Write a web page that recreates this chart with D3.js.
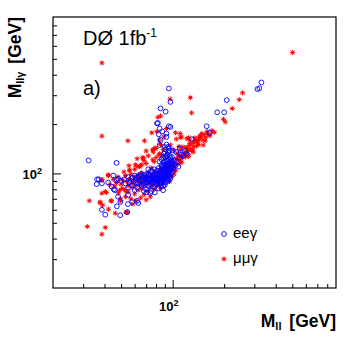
<!doctype html>
<html>
<head>
<meta charset="UTF-8">
<script src="https://cdnjs.cloudflare.com/ajax/libs/d3/7.8.5/d3.min.js"></script>
<style>
  body { margin: 0; background: #fff; }
  text { font-family: "Liberation Sans", Arial, Helvetica, sans-serif; }
</style>
</head>
<body>
<svg id="chart" width="354" height="340"></svg>
<script>
// M_ll vs M_llγ, values in GeV
var eeg = [
  [330,359],[313,327],[321,331],[207,280],[200,236],[182,236],[158,194],[164,177],
  [95,330],[97,273],[85,249],[91,238],[82,203],[87,180],[81,202],[84,188],[95,194],
  [92,167],[84,149],[97,192],[92,175],[129,162],[110,142],[85,160],[83,173],
  [32.3,120],[47,116],[38.6,60],[40.4,56],[49.4,55.6],[47.2,63],[36.2,92],[38.6,87],
  [37,92],[36,86],[46,79],[48,72],[55,74],[49.5,67],[58,67],[63,66],[54.8,65],[62,68],
  [54.3,58],[45.3,80],[47.2,91],[70.3,76.5],[78.7,76.5],
  [52,92],[55,95],[57,90],[58,94],[60,97],[61,91],[62,88],[63,95],[64,92],[65,99],
  [66,90],[67,94],[68,87],[69,96],[70,92],[71,89],[72,98],[73,93],[74,90],[75,95],
  [76,88],[77,92],[78,97],[79,91],[80,94],[80,89],[81,99],[82,92],[83,95],[84,90],
  [84,97],[85,93],[86,88],[86,100],[87,95],[88,91],[88,98],[89,94],[90,90],[90,102],
  [91,96],[92,99],[93,93],[94,97],[95,101],[96,95],[97,105],[98,100],
  [58,85],[62,82],[66,84],[70,80],[72,84],[75,78],[78,83],[80,86],[83,81],[86,84],
  [88,79],[90,85],[74,76],[68,78],[64,86],[56,88],[53,87],[50,90],[48,93],[60,79],[55,82],
  [89,105],[90,108],[91,112],[92,106],[93,115],[94,110],[92,120],[90,118],[91,125],
  [93,130],[95,122],[96,113],[94,135],[91,140],[89,132],[95,142],[97,118],[98,110],
  [99,126],[88,116],[86,122],[90,145],[92,150],[87,110],[85,104],[83,108],[100,115],
  [101,106],[102,120],[96,128],
  [104,112],[106,118],[108,110],[110,125],[112,130],[105,135],[115,128],[118,137],
  [120,132],[100,138],[45,97],[42,88],[44,83],
  [66,96],[67,91],[68,98],[69,93],[70,88],[71,95],[72,91],[73,97],[74,86],[75,92],
  [76,97],[77,89],[78,94],[79,99],[80,92],[81,87],[82,96],[83,90],[84,100],[85,96],
  [86,91],[87,102],[88,94],[89,99],[90,93],[91,104],[92,95],[93,101],[94,92],[95,98],
  [96,104],[97,96],[98,108],[99,102],[76,102],[79,85],[82,100],[85,87],[88,84],[91,88],
  [94,90],[97,93],[73,84],[70,99],[67,86],[64,97],[61,94],[59,89],[87,106],[89,113],
  [91,109],[93,119],[95,114],[97,124],[99,119],[92,128],[90,135],[88,126],[94,145],
  [96,138],[86,112],[84,118],[100,109],[102,114],[95,105],[93,108],[81,104],[78,106],
  [75,104],[72,106]
];

var mmg = [
  [502,546],[38.6,472],[38.6,169],[54.8,158],[68.4,158],[96.6,284],[127,290],[129,234],
  [82,220],[85,224],[67,124],[32.6,68],[31.7,47.4],[40.4,46.8],[38.6,42.6],[223,249],
  [245,282],[256,310],[198,214],[203,206],[163,172],[159,180],[144,169],[141,160],
  [134,156],[124,165],[111,166],[104,177],[105,162],[92,188],[77,140],[70,137],[67,125],
  [56,105],[60.5,113],[76.5,121],[83,130],[121,142],[129,139],[138,147],[151,149],
  [111,139],[97,149],[37.7,66],[39,64],[44,68],[49.5,70],[54.3,58],[42.2,60.5],
  [38.6,92],[42.2,97],[40.4,77.5],[50.6,81],[48.2,76],[53.4,77.5],[64.6,111.5],[62,123],
  [42,98],[43,85.5],[55.6,111.5],[64.2,110],[76.5,139],
  [46.2,57.2],[53.4,58],[58.6,65],[49.7,68],[43.6,68],[38.6,90.5],[37.7,66.9],
  [38.6,75.7],[41,76.4],
  [75.5,177],[80.9,180],[83.7,160],[79,143],[89,167],[110.6,175],[113,167],[121,163],
  [126,152],[131,139],[144,167],[138,156],[101,139],[106,133],[110.6,127],[118,135],
  [123.6,127],[101,110],[110.6,116],
  [45,92],[47,88],[48,95],[50,86],[51,91],[53,97],[54,89],[55,84],[56,93],[57,99],
  [58,87],[59,91],[60,95],[61,84],[62,90],[63,98],[64,86],[65,93],[66,101],[67,88],
  [68,92],[69,85],[70,96],[71,90],[72,102],[73,87],[74,94],[75,99],[76,91],[77,86],
  [78,95],[79,103],[80,90],[81,97],[82,88],[83,101],[84,94],[85,107],[86,92],[87,98],
  [88,103],[89,110],[90,96],[91,100],[92,104],[93,112],[94,99],[95,108],[96,117],
  [97,103],[98,112],[99,108],[100,119],[102,111],[103,116],[105,123],[107,114],
  [108,128],[110,120],[112,128],[114,125],[117,132],[118,130],[120,144],[122,136],
  [125,148],[127,140],[130,152],[133,146],[136,158],[140,155],[143,162],[146,168],
  [150,160],[153,172],[156,166],[160,176],[165,170],[170,182],[175,178],
  [52,80],[55,77],[58,82],[60,75],[63,79],[66,81],[68,74],[72,78],[75,83],[78,80],
  [82,84],[85,81],[88,87],[46,84],[49,79],[53,72],[57,70],[61,68],[65,71],[70,69],[74,72],
  [62,110],[70,115],[75,108],[78,118],[80,125],[84,132],[86,128],[88,140],[85,150],
  [80,142],[77,135],[72,128],[68,120],[66,113],[60,106],[56,104],[52,102],
  [115,145],[119,126],[126,160],[132,135],[135,165],[142,150],[148,175],[155,158],
  [124,131],[109,146],[104,104],[107,122],[113,117],[96,89],[99,96],[102,99]
];

var xMinor = [30,40,50,60,70,80,90,200,300,400,500,600,700,800];
var yMinor = [30,40,50,60,70,80,90,200,300,400,500,600,700,800];
var major = [100];

var pl = 53, pr = 336, pt = 17, pb = 288;

var svg = d3.select("#chart");

var x = d3.scaleLog().domain([20, 900]).range([pl, pr]);
var y = d3.scaleLog().domain([20, 900]).range([pb, pt]);

// ticks, pointing inwards
svg.append("g")
  .attr("transform", "translate(0," + pb + ")")
  .call(d3.axisBottom(x).tickValues(xMinor).tickSize(-4).tickFormat(""))
  .call(g => g.select(".domain").remove());
svg.append("g")
  .attr("transform", "translate(0," + pb + ")")
  .call(d3.axisBottom(x).tickValues(major).tickSize(-8).tickFormat(""))
  .call(g => g.select(".domain").remove());
svg.append("g")
  .attr("transform", "translate(" + pl + ",0)")
  .call(d3.axisLeft(y).tickValues(yMinor).tickSize(-4).tickFormat(""))
  .call(g => g.select(".domain").remove());
svg.append("g")
  .attr("transform", "translate(" + pl + ",0)")
  .call(d3.axisLeft(y).tickValues(major).tickSize(-8).tickFormat(""))
  .call(g => g.select(".domain").remove());

// frame
svg.append("rect")
  .attr("x", pl).attr("y", pt)
  .attr("width", pr - pl).attr("height", pb - pt)
  .attr("fill", "none").attr("stroke", "#000").attr("stroke-width", 1.2);

// tick labels 10^2
var xl = svg.append("text")
  .attr("x", x(100) - 4).attr("y", 311)
  .attr("text-anchor", "middle")
  .style("font-size", "13px").style("font-weight", "bold");
xl.append("tspan").text("10");
xl.append("tspan").attr("dy", -5).style("font-size", "9px").text("2");

var yl = svg.append("text")
  .attr("x", 42).attr("y", y(100) + 6)
  .attr("text-anchor", "end")
  .style("font-size", "13px").style("font-weight", "bold");
yl.append("tspan").text("10");
yl.append("tspan").attr("dy", -5).style("font-size", "9px").text("2");

// axis titles
var xt = svg.append("text")
  .attr("x", pr).attr("y", 327)
  .attr("text-anchor", "end")
  .style("font-size", "17.5px").style("font-weight", "bold");
xt.append("tspan").text("M");
xt.append("tspan").attr("dy", 3).style("font-size", "11px").text("ll");
xt.append("tspan").attr("dy", -3).attr("dx", 3).text(" [GeV]");

var yt = svg.append("text")
  .attr("transform", "translate(21,17)rotate(-90)")
  .attr("text-anchor", "end")
  .style("font-size", "17.5px").style("font-weight", "bold");
yt.append("tspan").text("M");
yt.append("tspan").attr("dy", 3).style("font-size", "11px").text("llγ");
yt.append("tspan").attr("dy", -3).attr("dx", 3).text(" [GeV]");

// labels
var d0 = svg.append("text")
  .attr("x", 83).attr("y", 45)
  .style("font-size", "20px");
d0.append("tspan").text("DØ 1fb");
d0.append("tspan").attr("dy", -8).style("font-size", "12px").text("-1");

svg.append("text")
  .attr("x", 83).attr("y", 95)
  .style("font-size", "20px")
  .text("a)");

// markers
var star = "M-2.5,0h5M0,-2.5v5M-1.8,-1.8l3.6,3.6M-1.8,1.8l3.6,-3.6";

svg.append("g")
  .selectAll("path")
  .data(mmg)
  .enter()
  .append("path")
    .attr("transform", d => "translate(" + x(d[0]) + "," + y(d[1]) + ")")
    .attr("d", star)
    .attr("stroke", "#ff0000")
    .attr("stroke-width", 1)
    .attr("fill", "none");

svg.append("g")
  .selectAll("circle")
  .data(eeg)
  .enter()
  .append("circle")
    .attr("cx", d => x(d[0]))
    .attr("cy", d => y(d[1]))
    .attr("r", 2.4)
    .attr("fill", "none")
    .attr("stroke", "#0000ff")
    .attr("stroke-width", 0.9);

// legend
svg.append("circle")
  .attr("cx", 224).attr("cy", 234).attr("r", 2.4)
  .attr("fill", "none").attr("stroke", "#0000ff").attr("stroke-width", 0.9);
svg.append("text")
  .attr("x", 233).attr("y", 238)
  .style("font-size", "15px")
  .text("eeγ");

svg.append("path")
  .attr("transform", "translate(224,259)")
  .attr("d", star)
  .attr("stroke", "#ff0000").attr("stroke-width", 1).attr("fill", "none");
svg.append("text")
  .attr("x", 233).attr("y", 263)
  .style("font-size", "15px")
  .text("μμγ");
</script>
</body>
</html>
